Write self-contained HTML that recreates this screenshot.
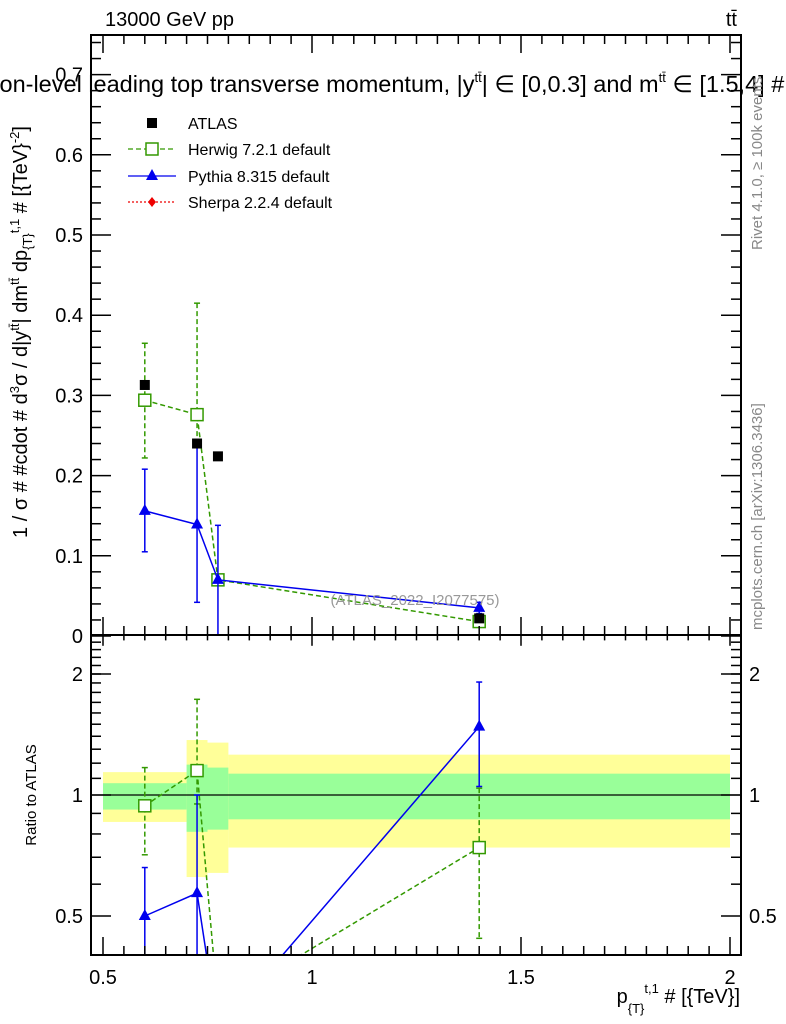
<!DOCTYPE html>
<html><head><meta charset="utf-8"><style>
body{margin:0;background:#fff;overflow:hidden;}
svg{display:block;font-family:"Liberation Sans",sans-serif;}
</style></head><body>
<svg id="c" width="786" height="1024" viewBox="0 0 786 1024" xmlns="http://www.w3.org/2000/svg">
<defs>
<clipPath id="cm"><rect x="91" y="35" width="650" height="600"/></clipPath>
<clipPath id="cr"><rect x="91" y="635" width="650" height="320"/></clipPath>
</defs>
<g id="bands" clip-path="url(#cr)"></g>
<g id="marks"></g>
<rect x="91" y="35" width="650" height="600" fill="none" stroke="#000" stroke-width="2"/>
<rect x="91" y="635" width="650" height="320" fill="none" stroke="#000" stroke-width="2"/>
<g id="axes"></g>
<text x="105" y="26" font-size="20">13000 GeV pp</text>
<text x="737" y="26" font-size="20" text-anchor="end">tt̄</text>
<text x="-41" y="92" font-size="23.5">parton-level leading top transverse momentum, |y<tspan font-size="13" dy="-10">tt̄</tspan><tspan dy="10">| ∈ [0,0.3] and m</tspan><tspan font-size="13" dy="-10">tt̄</tspan><tspan dy="10"> ∈ [1.5,4] #</tspan></text>
<text transform="translate(27,332) rotate(-90)" font-size="20" text-anchor="middle">1 / σ # #cdot # d<tspan font-size="13" dy="-8">3</tspan><tspan dy="8">σ / d|y</tspan><tspan font-size="13" dy="-8">tt̄</tspan><tspan dy="8">| dm</tspan><tspan font-size="13" dy="-8">tt̄</tspan><tspan dy="8"> dp</tspan><tspan font-size="13" dy="5">{T}</tspan><tspan font-size="13" dy="-13">t,1</tspan><tspan dy="8"> # [{TeV}</tspan><tspan font-size="13" dy="-8">-2</tspan><tspan dy="8">]</tspan></text>
<text transform="translate(36,795) rotate(-90)" font-size="15" text-anchor="middle">Ratio to ATLAS</text>
<text x="740" y="1003" font-size="20" text-anchor="end">p<tspan font-size="13" dy="10">{T}</tspan><tspan font-size="13" dy="-20">t,1</tspan><tspan dy="10"> # [{TeV}]</tspan></text>
<text transform="translate(762,250) rotate(-90)" font-size="15" fill="#888">Rivet 4.1.0, ≥ 100k events</text>
<text transform="translate(762,630) rotate(-90)" font-size="15" fill="#888">mcplots.cern.ch [arXiv:1306.3436]</text>
<text x="415" y="605" font-size="15" fill="#999" text-anchor="middle">(ATLAS_2022_I2077575)</text>
<g id="legend">
<rect x="147" y="118" width="10" height="10" fill="#000"/>
<text x="188" y="129" font-size="16">ATLAS</text>
<line x1="128" y1="149" x2="176" y2="149" stroke="#339900" stroke-dasharray="5,3" stroke-width="1.3"/>
<rect x="146" y="143" width="12" height="12" fill="#fff" stroke="#339900" stroke-width="1.5"/>
<text x="188" y="155" font-size="16">Herwig 7.2.1 default</text>
<line x1="128" y1="176" x2="176" y2="176" stroke="#0000ee" stroke-width="1.3"/>
<polygon points="152,169 158,180 146,180" fill="#0000ee"/>
<text x="188" y="182" font-size="16">Pythia 8.315 default</text>
<line x1="128" y1="202" x2="176" y2="202" stroke="#ee0000" stroke-dasharray="2,2" stroke-width="1.3"/>
<polygon points="152,197 156,202 152,207 148,202" fill="#ee0000"/>
<text x="188" y="208" font-size="16">Sherpa 2.2.4 default</text>
</g>
</svg>
<script>
const xs=[0.6,0.725,0.775,1.4];
const atlas=[0.313,0.240,0.224,0.022];
const herwig=[0.294,0.276,0.070,0.018];
const herwigLo=[0.222,0.240,0.066,0.016];
const herwigHi=[0.365,0.415,0.074,0.020];
const pythia=[0.156,0.139,0.070,0.035];
const pythiaLo=[0.105,0.042,0.0,0.028];
const pythiaHi=[0.208,0.240,0.138,0.042];
const herwigR=[0.94,1.15,0.30,0.74];
const herwigRLo=[0.71,0.95,0.28,0.44];
const herwigRHi=[1.17,1.73,0.33,1.04];
const pythiaR=[0.50,0.57,0.26,1.48];
const pythiaRLo=[0.30,0.30,0.2,1.05];
const pythiaRHi=[0.66,1.00,0.35,1.91];
const binEdges=[0.5,0.7,0.75,0.8,2.0];
const yellowHi=[1.14,1.37,1.35,1.26];
const yellowLo=[0.857,0.625,0.64,0.74];
const greenHi=[1.07,1.19,1.17,1.13];
const greenLo=[0.92,0.81,0.82,0.87];
const xTicks=[0.5,1,1.5,2];
const xTickLabels=["0.5","1","1.5","2"];
const yTicks=[0,0.1,0.2,0.3,0.4,0.5,0.6,0.7];
const yTickLabels=["0","0.1","0.2","0.3","0.4","0.5","0.6","0.7"];
const rTicks=[0.5,1,2];
const rTickLabels=["0.5","1","2"];

const NS="http://www.w3.org/2000/svg";
const X=v=>103+(v-0.5)*418;
const Y=v=>636-v*802;
const R=v=>795-Math.log2(v)*121;
function mk(tag,attrs,parent){const e=document.createElementNS(NS,tag);for(const k in attrs)e.setAttribute(k,attrs[k]);parent.appendChild(e);return e;}
const bands=document.getElementById('bands');
const marks=document.getElementById('marks');
const axes=document.getElementById('axes');
for(let i=0;i<binEdges.length-1;i++){
  const x1=X(binEdges[i]),x2=X(binEdges[i+1]);
  const y=mk('rect',{x:x1,y:R(yellowHi[i]),width:x2-x1,height:R(yellowLo[i])-R(yellowHi[i]),fill:'#ffff99'},bands);
  
  
  const g=mk('rect',{x:x1,y:R(greenHi[i]),width:x2-x1,height:R(greenLo[i])-R(greenHi[i]),fill:'#99ff99'},bands);
  
  
}
const one=mk('line',{x1:91,x2:741,y1:R(1),y2:R(1),stroke:'#000','stroke-width':1.3},marks);



function series(vals,lo,hi,Yf,color,dash,marker,clip,name){
  const g=mk('g',{'clip-path':'url(#'+clip+')'},marks);
  
  
  const pts=xs.map((x,i)=>X(x)+','+Yf(vals[i])).join(' ');
  mk('polyline',{points:pts,fill:'none',stroke:color,'stroke-width':1.5,'stroke-dasharray':dash},g);
  xs.forEach((x,i)=>{
    const px=X(x),a=Yf(hi[i]),b=Yf(Math.max(lo[i],1e-3));
    mk('line',{x1:px,x2:px,y1:a,y2:b,stroke:color,'stroke-width':1.5,'stroke-dasharray':dash},g);
    mk('line',{x1:px-3,x2:px+3,y1:a,y2:a,stroke:color,'stroke-width':1.5},g);
    mk('line',{x1:px-3,x2:px+3,y1:b,y2:b,stroke:color,'stroke-width':1.5},g);
    const py=Yf(vals[i]);let m;
    if(marker==='sq')m=mk('rect',{x:px-6,y:py-6,width:12,height:12,fill:'#fff',stroke:color,'stroke-width':1.5},g);
    else m=mk('polygon',{points:`${px},${py-7} ${px+6},${py+4} ${px-6},${py+4}`,fill:color},g);
    
    
  });
}
series(herwig,herwigLo,herwigHi,Y,'#339900','5,3','sq','cm','herwig-series');
series(pythia,pythiaLo,pythiaHi,Y,'#0000ee','','tri','cm','pythia-series');
series(herwigR,herwigRLo,herwigRHi,R,'#339900','5,3','sq','cr','herwig-ratio-series');
series(pythiaR,pythiaRLo,pythiaRHi,R,'#0000ee','','tri','cr','pythia-ratio-series');
xs.forEach((x,i)=>{
  const r=mk('rect',{x:X(x)-5,y:Y(atlas[i])-5,width:10,height:10,fill:'#000'},marks);
  
  
});
function tl(x1,y1,x2,y2){mk('line',{x1,y1,x2,y2,stroke:'#000','stroke-width':1.5},axes);}
function txt(x,y,s,anchor,size){const t=mk('text',{x,y,'font-size':size||20,'text-anchor':anchor},axes);t.textContent=s;return t;}
for(let v=0.5;v<=2.001;v+=0.05){
  const major=Math.abs(v*2-Math.round(v*2))<1e-6, len=major?18:9, px=X(v);
  tl(px,955,px,955-len);tl(px,635,px,635-len);tl(px,635,px,635+len*0.6);tl(px,35,px,35+len);
}
xTicks.forEach((v,i)=>{const t=txt(X(v),984,xTickLabels[i],'middle');});
for(let v=0;v<=0.75;v+=0.02){const major=Math.abs(v*10-Math.round(v*10))<1e-6;const len=major?20:10;const py=Y(v);if(py<35)continue;tl(91,py,91+len,py);tl(741,py,741-len,py);}
yTicks.forEach((v,i)=>{const t=txt(83,Y(v)+7,yTickLabels[i],'end');});
[0.4,0.5,0.6,0.7,0.8,0.9,1,2].forEach(v=>{const major=[0.5,1,2].includes(v);const len=major?20:10;const py=R(v);tl(91,py,91+len,py);tl(741,py,741-len,py);});
for(let v=1.1;v<2.5;v+=0.1){const py=R(v);if(py<635)continue;tl(91,py,101,py);tl(741,py,731,py);}
rTicks.forEach((v,i)=>{
  const t=txt(83,R(v)+7,rTickLabels[i],'end');
  const t2=txt(749,R(v)+7,rTickLabels[i],'start');
});
</script>
</body></html>
